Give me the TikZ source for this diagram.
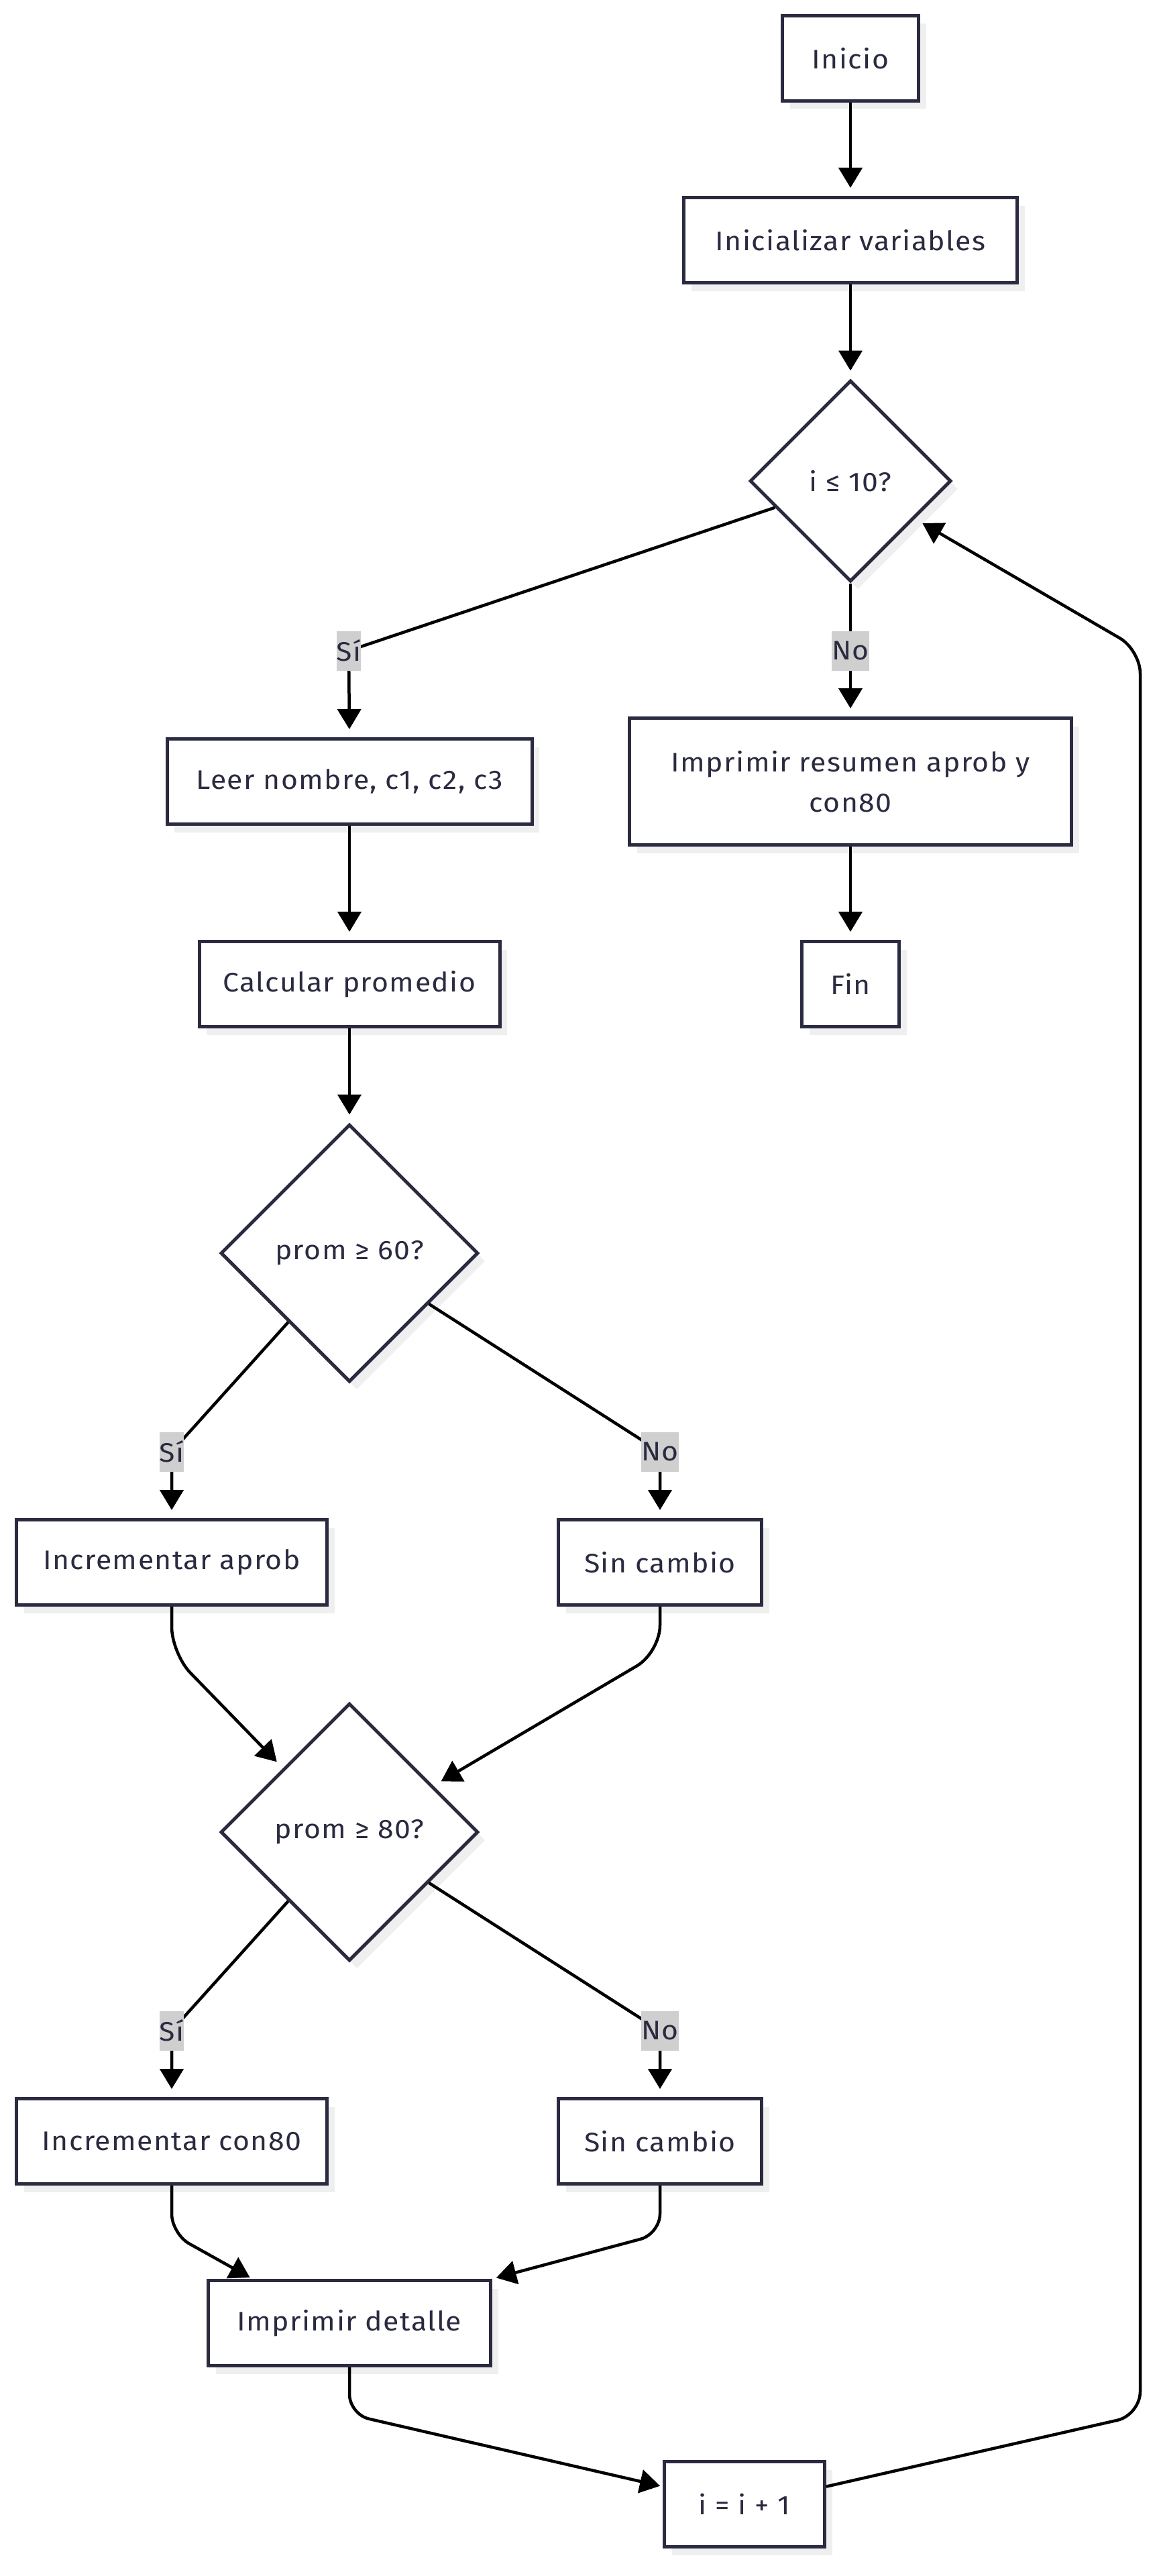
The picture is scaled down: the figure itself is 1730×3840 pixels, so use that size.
\documentclass[tikz,border=0pt]{standalone}
\usepackage{fontspec}
\setmainfont{Fira Sans}[LetterSpace=3.5, FakeStretch=1.07]
\usetikzlibrary{arrows.meta,shapes.geometric,shadows,calc}
\definecolor{nodeborder}{HTML}{2A2A40}
\definecolor{nodetext}{HTML}{2A2A40}
\definecolor{shadowgray}{HTML}{EFEFEF}
\definecolor{labelgray}{HTML}{CFCFCF}
\begin{document}
\begin{tikzpicture}[x=1pt,y=-1pt,
  nodefont/.style={font=\fontsize{40}{60}\selectfont},
  box/.style={draw=nodeborder, line width=5pt, fill=white, text=nodetext,
    inner sep=0pt, minimum height=127pt, align=center, nodefont,
    drop shadow={shadow xshift=11pt, shadow yshift=-12pt, fill=shadowgray, opacity=1}},
  dec/.style={diamond, aspect=1, draw=nodeborder, line width=5pt, fill=white,
    text=nodetext, inner sep=0pt, nodefont,
    drop shadow={shadow xshift=11pt, shadow yshift=-12pt, fill=shadowgray, opacity=1}},
  lbl/.style={fill=labelgray, text=nodetext, inner xsep=0pt, inner ysep=0pt,
    minimum height=59pt, nodefont},
  conn/.style={draw=black, line width=4.5pt, shorten >=12pt,
    -{Triangle[length=30pt,width=35pt]}},
]
\fill[white] (0,0) rectangle (1730,3840);
\useasboundingbox (0,0) rectangle (1730,3840);

% nodes
\node[box, minimum width=203pt] (start) at (1268,87) {Inicio};
\node[box, minimum width=497pt] (init) at (1268,358) {Inicializar variables};
\node[dec, minimum size=300pt] (d1) at (1268,717) {i ≤ 10?};
\node[box, minimum width=544pt] (leer) at (521,1165) {Leer nombre, c1, c2, c3};
\node[box, minimum width=659pt, minimum height=189pt] (resumen) at (1268,1165) {Imprimir resumen aprob y\\con80};
\node[box, minimum width=448pt] (calc) at (521,1467) {Calcular promedio};
\node[box, minimum width=145pt] (fin) at (1268,1467) {Fin};
\node[dec, minimum size=384pt] (d2) at (521,1868) {prom ≥ 60?};
\node[box, minimum width=463pt] (inc1) at (256,2329) {Incrementar aprob};
\node[box, minimum width=303pt] (sin1) at (984,2329) {Sin cambio};
\node[dec, minimum size=384pt] (d3) at (521,2731) {prom ≥ 80?};
\node[box, minimum width=463pt] (inc2) at (256,3192) {Incrementar con80};
\node[box, minimum width=303pt] (sin2) at (984,3192) {Sin cambio};
\node[box, minimum width=421pt] (detalle) at (521,3463) {Imprimir detalle};
\node[box, minimum width=239pt] (inc3) at (1110,3733) {i = i + 1};

% label positions
\coordinate (l1) at (520,970);
\coordinate (l2) at (1268,970);
\coordinate (l3) at (256,2164);
\coordinate (l4) at (984,2164);
\coordinate (l5) at (256,3027);
\coordinate (l6) at (984,3027);
\coordinate (loopA) at (1700,3600);
\coordinate (loopB) at (1700,969);

% connectors
\draw[conn] (start.south) -- (init.north);
\draw[conn] (init.south) -- (d1.north);
\draw[conn] ($(d1.west)!0.26!(d1.south)$) -- (l1) -- (leer.north);
\draw[conn] (d1.south) -- (l2) -- (resumen.north);
\draw[conn] (leer.south) -- (calc.north);
\draw[conn] (resumen.south) -- (fin.north);
\draw[conn] (calc.south) -- (d2.north);
\draw[conn] ($(d2.west)!0.53!(d2.south)$) -- (l3) -- (inc1.north);
\draw[conn] ($(d2.east)!0.39!(d2.south)$) -- (l4) -- (sin1.north);
\draw[conn, rounded corners=40pt, shorten >=13pt] (inc1.south) -- ++(0,70) -- ($(d3.west)!0.49!(d3.north)$);
\draw[conn, rounded corners=40pt, shorten >=13pt] (sin1.south) -- ++(0,68) -- ($(d3.north)!0.645!(d3.east)$);
\draw[conn] ($(d3.west)!0.53!(d3.south)$) -- (l5) -- (inc2.north);
\draw[conn] ($(d3.east)!0.39!(d3.south)$) -- (l6) -- (sin2.north);
\draw[conn, rounded corners=30pt, shorten >=4pt] (inc2.south) -- ++(0,72) -- ($(detalle.north west)!0.16!(detalle.north east)$);
\draw[conn, rounded corners=30pt, shorten >=6pt] (sin2.south) -- ++(0,72) -- (detalle.north east);
\draw[conn, rounded corners=30pt, shorten >=4pt] (detalle.south) -- ++(0,70) -- ($(inc3.north west)!0.3!(inc3.south west)$);
\draw[conn, rounded corners=35pt, shorten >=13pt] ($(inc3.north east)!0.3!(inc3.south east)$) -- (loopA) -- (loopB) -- ($(d1.east)!0.37!(d1.south)$);

% edge labels
\node[lbl] (L1) at (l1) {Sí};
\node[lbl] (L2) at (l2) {No};
\node[lbl] (L3) at (l3) {Sí};
\node[lbl] (L4) at (l4) {No};
\node[lbl] (L5) at (l5) {Sí};
\node[lbl] (L6) at (l6) {No};
\end{tikzpicture}
\end{document}
